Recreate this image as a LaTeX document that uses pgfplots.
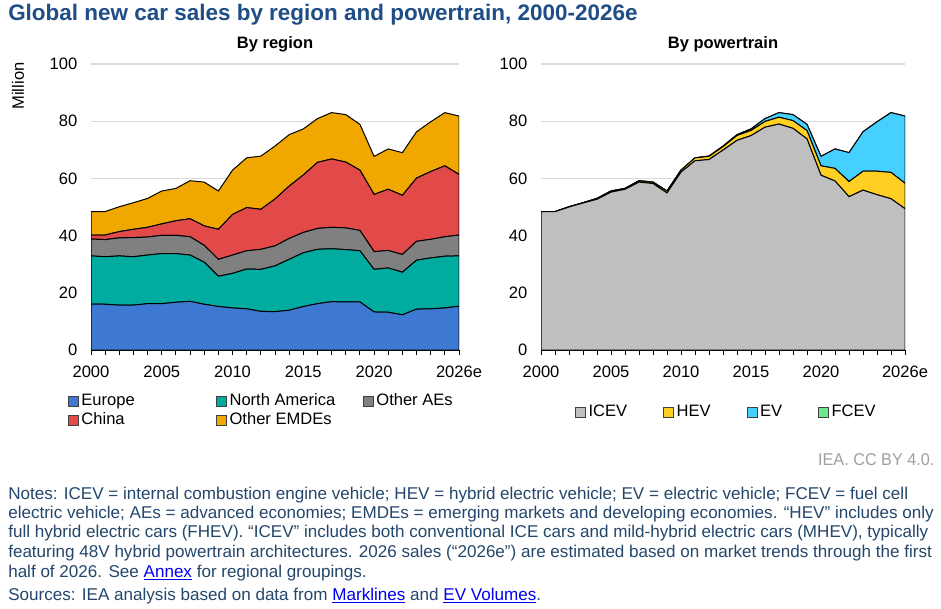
\documentclass[border=0pt]{standalone}
\usepackage{pgfplots}
\pgfplotsset{compat=1.18}
\usepackage{pgfplotstable}
\usepackage{graphicx}
\usepackage{fontspec}
\setmainfont{Liberation Sans}
\definecolor{cEU}{HTML}{3D78D2}
\definecolor{cNA}{HTML}{00ACA0}
\definecolor{cOAE}{HTML}{808080}
\definecolor{cCN}{HTML}{E24A4A}
\definecolor{cOEM}{HTML}{F0A800}
\definecolor{cICE}{HTML}{BFBFBF}
\definecolor{cHEV}{HTML}{FFD023}
\definecolor{cEV}{HTML}{45D0FF}
\definecolor{cFC}{HTML}{6EE88E}
\definecolor{titleblue}{HTML}{1F4D86}
\definecolor{notecol}{HTML}{24476B}
\definecolor{linkblue}{HTML}{0000EE}
\definecolor{gridgray}{HTML}{D9D9D9}
\definecolor{ccgray}{HTML}{A0A0A0}

\pgfplotstableread{
year eu na oae cn oem
2000 16.0 16.9 5.9 1.4 8.2
2001 16.0 16.6 6.0 1.6 8.2
2002 15.7 17.2 6.3 2.2 8.7
2003 15.7 16.9 6.7 2.9 9.3
2004 16.2 17.0 6.3 3.4 10.1
2005 16.2 17.5 6.4 4.0 11.5
2006 16.7 17.0 6.4 5.1 11.3
2007 17.0 16.2 6.4 6.3 13.3
2008 16.0 14.7 5.9 6.8 15.3
2009 15.2 10.6 5.9 10.5 13.4
2010 14.7 12.1 6.4 14.2 15.5
2011 14.4 13.9 6.4 15.1 17.4
2012 13.5 14.7 7.0 14.0 18.6
2013 13.4 16.0 7.0 16.4 18.5
2014 13.9 17.8 7.3 18.3 18.0
2015 15.2 18.8 7.1 20.1 16.1
2016 16.2 19.0 7.3 23.1 15.3
2017 16.9 18.5 7.5 23.9 16.2
2018 16.8 18.3 7.6 23.0 16.6
2019 16.8 17.9 7.1 21.1 16.0
2020 13.3 14.9 6.2 20.0 13.3
2021 13.2 15.5 6.1 21.4 14.1
2022 12.3 14.9 6.2 20.7 14.9
2023 14.3 17.1 6.6 22.1 16.2
2024 14.4 17.8 6.5 23.7 17.4
2025 14.7 18.1 6.8 24.8 18.6
2026 15.3 17.6 7.3 21.2 20.4
}\regiontable

\pgfplotstableread{
year icev hev ev fcev
2000 48.4 0.0 0.0 0.0
2001 48.35 0.05 0.0 0.0
2002 50.0 0.1 0.0 0.0
2003 51.4 0.1 0.0 0.0
2004 52.7 0.3 0.0 0.0
2005 55.2 0.4 0.0 0.0
2006 56.2 0.3 0.0 0.0
2007 58.7 0.5 0.0 0.0
2008 58.2 0.5 0.0 0.0
2009 54.9 0.7 0.0 0.0
2010 62.2 0.7 0.01 0.0
2011 66.15 1.0 0.05 0.0
2012 66.6 1.1 0.12 0.0
2013 69.9 1.2 0.2 0.0
2014 73.3 1.7 0.3 0.0
2015 74.95 1.8 0.55 0.01
2016 77.9 2.0 1.0 0.01
2017 79.0 2.4 1.6 0.01
2018 77.5 2.7 2.1 0.01
2019 73.8 2.9 2.2 0.01
2020 61.1 3.3 3.3 0.01
2021 59.1 4.4 6.8 0.01
2022 53.6 5.3 10.1 0.01
2023 55.9 6.6 13.8 0.01
2024 54.3 8.2 17.3 0.01
2025 52.9 9.2 20.9 0.01
2026 49.4 8.9 23.5 0.01
}\ptable

\newcommand\lnk[1]{\textcolor{linkblue}{\underline{#1}}}
\newcommand\fs{\fontsize{12.4}{14.6}\selectfont}
\newcommand\fn{\fontsize{12.8}{14.6}\selectfont}

\pgfplotsset{
  base/.style={
    scale only axis, height=214.5pt,
    ymin=0, ymax=100, xmin=2000, xmax=2026,
    stack plots=y,
    axis x line*=bottom, axis y line*=left,
    axis line style={-},
    y axis line style={draw=none},
    x axis line style={black, line width=0.75pt},
    xtick={2000,2001,...,2026},
    xticklabels={2000,,,,,2005,,,,,2010,,,,,2015,,,,,2020,,,,,,2026e},
    tick align=outside,
    xtick style={black, line width=0.75pt},
    major tick length=3.75pt,
    ytick={0,20,...,100}, ytick style={draw=none},
    ymajorgrids, grid style={draw=gridgray, line width=0.9pt},
    ticklabel style={font=\fs},
    xticklabel style={yshift=-5pt},
    yticklabel style={xshift=-3pt},
    /pgf/number format/assume math mode=true,
    title style={at={(0.5,1)}, anchor=center, yshift=9pt, font=\bfseries\fs},
    legend image code/.code={\draw[#1,draw=black!75,line width=0.6pt] (0pt,-3.75pt) rectangle (7.5pt,3.75pt);},
    legend style={draw=none, fill=none, inner sep=0pt, outer sep=0pt,
      font=\fs,
      nodes={inner xsep=2pt, inner ysep=1pt, text height=8.6pt, text depth=2.4pt},
      row sep=1.2pt},
    legend cell align=left,
  },
  ar/.style={draw=black, line width=0.75pt, fill=#1},
}

\begin{document}
\begin{tikzpicture}
\path[use as bounding box] (0,0) rectangle (705.75pt,-456.75pt);
\fill[white] (0,0) rectangle (705.75pt,-456.75pt);

\node[anchor=west, text=titleblue, font=\bfseries\fontsize{16.85}{20}\selectfont, inner sep=0pt] at (6pt,-11.25pt) {Global new car sales by region and powertrain, 2000-2026e};

\begin{axis}[base, at={(68.25pt,-262.5pt)}, anchor=south west, width=276pt,
  title={By region},
  ylabel={Million},
  ylabel style={at={(axis description cs:0,0.923)}, anchor=center, yshift=54.75pt, font=\fs},
  legend columns=3,
  legend style={at={(axis description cs:-0.0625,-0.2115)}, anchor=west},
]
\addplot[ar=cEU] table[x=year,y=eu]{\regiontable}\closedcycle;
\addlegendentry{\makebox[99pt][l]{Europe}}
\addplot[ar=cNA] table[x=year,y=na]{\regiontable}\closedcycle;
\addlegendentry{\makebox[98pt][l]{North America}}
\addplot[ar=cOAE] table[x=year,y=oae]{\regiontable}\closedcycle;
\addlegendentry{Other AEs}
\addplot[ar=cCN] table[x=year,y=cn]{\regiontable}\closedcycle;
\addlegendentry{\makebox[99pt][l]{China}}
\addplot[ar=cOEM] table[x=year,y=oem]{\regiontable}\closedcycle;
\addlegendentry{\makebox[98pt][l]{Other EMDEs}}
\end{axis}

\begin{axis}[base, at={(405.75pt,-262.5pt)}, anchor=south west, width=273pt,
  title={By powertrain},
  legend columns=4,
  legend style={at={(axis description cs:0.0935,-0.2168)}, anchor=west,
    /tikz/every even column/.append style={column sep=25pt}},
]
\addplot[ar=cICE] table[x=year,y=icev]{\ptable}\closedcycle;
\addlegendentry{ICEV}
\addplot[ar=cHEV] table[x=year,y=hev]{\ptable}\closedcycle;
\addlegendentry{HEV}
\addplot[ar=cEV] table[x=year,y=ev]{\ptable}\closedcycle;
\addlegendentry{EV}
\addplot[ar=cFC] table[x=year,y=fcev]{\ptable}\closedcycle;
\addlegendentry{FCEV}
\end{axis}

\node[anchor=east, text=ccgray, inner sep=0pt, font=\fontsize{12.8}{14}\selectfont] at (701pt,-345pt) {\scalebox{0.95}[1]{IEA. CC BY 4.0.}};

\begin{scope}[every node/.style={anchor=base west, inner sep=0pt, text=notecol, font=\fn}]
\node at (6pt,-374.25pt) {Notes: ICEV = internal combustion engine vehicle; HEV = hybrid electric vehicle; EV = electric vehicle; FCEV = fuel cell};
\node at (6pt,-388.8pt) {electric vehicle; AEs = advanced economies; EMDEs = emerging markets and developing economies. “HEV” includes only};
\node at (6pt,-403.3pt) {full hybrid electric cars (FHEV). “ICEV” includes both conventional ICE cars and mild-hybrid electric cars (MHEV), typically};
\node at (6pt,-417.9pt) {featuring 48V hybrid powertrain architectures. 2026 sales (“2026e”) are estimated based on market trends through the first};
\node at (6pt,-433.2pt) {half of 2026. See \lnk{Annex} for regional groupings.};
\node at (6pt,-450.5pt) {Sources: IEA analysis based on data from \lnk{Marklines} and \lnk{EV Volumes}.};
\end{scope}
\end{tikzpicture}
\end{document}
